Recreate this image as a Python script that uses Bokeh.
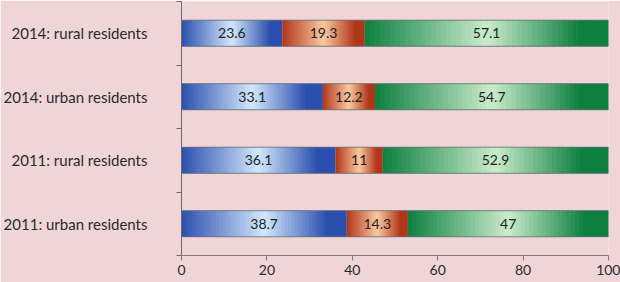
import numpy as np
from bokeh.plotting import figure
from bokeh.models import Range1d, FixedTicker, ColumnDataSource
from bokeh.core.properties import value
from bokeh.embed import file_html
from bokeh.resources import INLINE

categories = ["2011: urban residents", "2011: rural residents",
              "2014: urban residents", "2014: rural residents"]
blue_vals = [38.7, 36.1, 33.1, 23.6]
orange_vals = [14.3, 11.0, 12.2, 19.3]
green_vals = [47.0, 52.9, 54.7, 57.1]
x_ticks = [0, 20, 40, 60, 80, 100]

BG = "#EFD5D8"
FONT = "Lato"
BAR_H = 0.41
N = 48

grads = {
    "blue": ("#2B4FAE", "#D2E7FB"),
    "orange": ("#B2361A", "#F8C9A0"),
    "green": ("#0D7F3F", "#CBECCB"),
}


def hex2rgb(h):
    h = h.lstrip("#")
    return np.array([int(h[i:i + 2], 16) for i in (0, 2, 4)], dtype=float)


def grad_color(t, dark, light):
    d, l = hex2rgb(dark), hex2rgb(light)
    stops = [0.0, 0.5, 0.88, 1.0]
    w = np.interp(t, stops, [0.0, 1.0, 0.0, 0.0])
    c = d + (l - d) * w
    return "#%02x%02x%02x" % tuple(int(round(v)) for v in c)


p = figure(width=620, height=282, output_backend="svg", toolbar_location=None,
           x_range=Range1d(0, 100), y_range=Range1d(0, 4),
           min_border_left=180, min_border_right=12, min_border_top=1,
           min_border_bottom=27)
p.background_fill_color = BG
p.border_fill_color = BG
p.outline_line_color = None
p.xgrid.visible = False
p.ygrid.visible = False

centers = [i + 0.5 for i in range(len(categories))]

strips = dict(left=[], right=[], top=[], bottom=[], color=[])
labels = dict(x=[], y=[], text=[])
for yc, b, o, g in zip(centers, blue_vals, orange_vals, green_vals):
    start = 0.0
    for val, key in ((b, "blue"), (o, "orange"), (g, "green")):
        dark, light = grads[key]
        for i in range(N):
            t = (i + 0.5) / N
            strips["left"].append(start + val * i / N)
            strips["right"].append(start + val * min(i + 1.8, N) / N)
            strips["top"].append(yc + BAR_H / 2)
            strips["bottom"].append(yc - BAR_H / 2)
            strips["color"].append(grad_color(t, dark, light))
        labels["x"].append(start + val / 2)
        labels["y"].append(yc)
        labels["text"].append(f"{val:g}")
        start += val

p.quad(left="left", right="right", top="top", bottom="bottom",
       fill_color="color", line_color=None,
       source=ColumnDataSource(strips))

totals = [b + o + g for b, o, g in zip(blue_vals, orange_vals, green_vals)]
p.quad(left=[0] * len(centers), right=totals,
       top=[c + BAR_H / 2 for c in centers],
       bottom=[c - BAR_H / 2 for c in centers],
       fill_alpha=0, line_color="#5e6a6a", line_width=1, line_alpha=0.8)

p.text(x="x", y="y", text="text", source=ColumnDataSource(labels),
       text_align="center", text_baseline="middle",
       text_font=value(FONT), text_font_size="14px", text_color="#1e1e1e")

# x axis
xa = p.xaxis[0]
xa.ticker = FixedTicker(ticks=x_ticks)
xa.major_tick_out = 5
xa.major_tick_in = 0
xa.minor_tick_line_color = None
xa.axis_line_color = "#7a7a7a"
xa.major_tick_line_color = "#7a7a7a"
xa.major_label_text_font = FONT
xa.major_label_text_font_size = "14px"
xa.major_label_text_color = "#2a2a2a"
xa.major_label_standoff = 4

# y axis
ya = p.yaxis[0]
ya.ticker = FixedTicker(ticks=centers, minor_ticks=[0, 1, 2, 3, 4])
ya.major_label_overrides = {c: lab for c, lab in zip(centers, categories)}
ya.major_tick_line_color = None
ya.major_tick_out = 0
ya.major_tick_in = 0
ya.minor_tick_out = 5
ya.minor_tick_in = 0
ya.minor_tick_line_color = "#6a6a6a"
ya.axis_line_color = "#6a6a6a"
ya.major_label_text_font = FONT
ya.major_label_text_font_size = "15px"
ya.major_label_text_color = "#2a2a2a"
ya.major_label_standoff = 29

open("out.html", "w").write(file_html(p, INLINE))
